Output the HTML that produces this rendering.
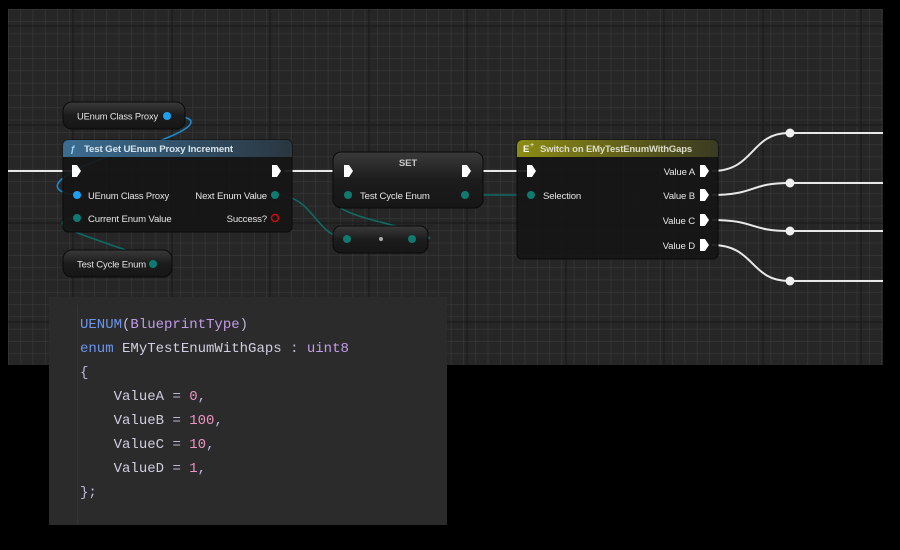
<!DOCTYPE html>
<html><head><meta charset="utf-8"><style>
html,body{margin:0;padding:0;background:#000;width:900px;height:550px;overflow:hidden}
svg{display:block}
.t{font-family:"Liberation Sans",sans-serif;font-size:9.6px;fill:#e6e6e6;letter-spacing:-0.15px}
.b{font-weight:bold}
.code{position:absolute;left:49px;top:297px;width:398px;height:228px;background:#2b2b2c;font-family:"Liberation Mono",monospace;font-size:14px;line-height:24px;color:#c9c0e8}
.code pre{margin:0;position:absolute;left:31px;top:16px;font:inherit}
.code .bar{position:absolute;left:28px;top:8px;width:1px;height:220px;background:#353535}
.k{color:#6c95eb}.p{color:#c39ce8}.n{color:#ed94c0}.f{color:#bdb8d8}.m{color:#d0cfe0}
</style></head><body>
<svg width="900" height="550" style="position:absolute;left:0;top:0">
<defs>
<pattern id="minor" x="8" y="9" width="12.3" height="12.3" patternUnits="userSpaceOnUse">
<rect width="12.3" height="12.3" fill="#262626"/>
<path d="M0 0H12.3M0 0V12.3" stroke="#393939" stroke-width="1.2"/>
</pattern>
<linearGradient id="hb" x1="0" x2="1"><stop offset="0" stop-color="#3b6d92"/><stop offset="1" stop-color="#2a3640"/></linearGradient>
<linearGradient id="hy" x1="0" x2="1"><stop offset="0" stop-color="#8c8c14"/><stop offset="1" stop-color="#3a3a22"/></linearGradient>
<linearGradient id="pill" x1="0" y1="0" x2="0" y2="1"><stop offset="0" stop-color="#3a3a3a"/><stop offset="0.5" stop-color="#1c1c1c"/><stop offset="1" stop-color="#161616"/></linearGradient>
</defs>
<rect x="8" y="9" width="875" height="356" fill="url(#minor)"/>
<g stroke="#181818" stroke-width="1">
<path d="M73 9V365M172 9V365M270 9V365M369 9V365M467 9V365M566 9V365M664 9V365M763 9V365M861 9V365"/>
<path d="M8 26H883M8 125H883M8 223H883M8 322H883"/>
</g>
<g fill="none" stroke-width="1.6">
<path d="M167 116C215 116 185 135 130 150S30 190 77 195" stroke="#1b8ad0"/>
<path d="M153 264C190 268 160 262 120 248S40 222 77 218" stroke="#0d6b63"/>
<path d="M275 195C315 195 315 238 347 238" stroke="#0d6b63"/>
<path d="M412 238C450 242 420 232 380 222S320 200 348 195" stroke="#0d6b63"/>
<path d="M465 195H531" stroke="#0d6b63"/>
</g>
<g fill="none" stroke="#e8e8e8" stroke-width="2">
<path d="M8 171H73M285 171H343M475 171H527"/>
<path d="M712 171C755 171 750 133 789 133H883"/>
<path d="M712 195C755 195 750 183 789 183H883"/>
<path d="M712 220C755 220 750 231 789 231H883"/>
<path d="M712 245C755 245 750 281 789 281H883"/>
</g>
<g fill="#f0f0f0"><circle cx="790" cy="133" r="4.5"/><circle cx="790" cy="183" r="4.5"/><circle cx="790" cy="231" r="4.5"/><circle cx="790" cy="281" r="4.5"/></g>

<rect x="63" y="102" width="122" height="27" rx="9" fill="url(#pill)" stroke="#0a0a0a"/>
<text class="t" x="77" y="119.5" textLength="81" lengthAdjust="spacingAndGlyphs">UEnum Class Proxy</text>
<circle cx="167" cy="116" r="4" fill="#1ea0f0"/>
<rect x="63" y="140" width="229" height="92" rx="5" fill="#151515" fill-opacity="0.93" stroke="#0a0a0a"/>
<path d="M68 140H287A5 5 0 0 1 292 145V157H63V145A5 5 0 0 1 68 140Z" fill="url(#hb)"/>
<text class="t b" x="70" y="152" style="font-style:italic;fill:#9fd2f5">ƒ</text>
<text class="t b" x="84" y="152" style="fill:#d8e4ec" textLength="149" lengthAdjust="spacingAndGlyphs">Test Get UEnum Proxy Increment</text>
<path d="M72 165h5l4 6-4 6h-5z" fill="#fff"/>
<path d="M272 165h5l4 6-4 6h-5z" fill="#fff"/>
<circle cx="77" cy="195" r="4" fill="#1ea0f0"/>
<text class="t" x="88" y="199" textLength="81" lengthAdjust="spacingAndGlyphs">UEnum Class Proxy</text>
<text class="t" x="267" y="199" text-anchor="end">Next Enum Value</text>
<circle cx="275" cy="195" r="4" fill="#0e7a70"/>
<circle cx="77" cy="218" r="4" fill="#0e7a70"/>
<text class="t" x="88" y="222">Current Enum Value</text>
<text class="t" x="267" y="222" text-anchor="end">Success?</text>
<circle cx="275" cy="218" r="3.5" fill="none" stroke="#c81010" stroke-width="1.4"/>
<rect x="63" y="250" width="109" height="27" rx="9" fill="url(#pill)" stroke="#0a0a0a"/>
<text class="t" x="77" y="267.5" textLength="69" lengthAdjust="spacingAndGlyphs">Test Cycle Enum</text>
<circle cx="153" cy="264" r="4" fill="#0e7a70"/>
<rect x="333" y="152" width="150" height="56" rx="8" fill="url(#pill)" stroke="#0a0a0a"/>
<text class="t b" x="408" y="166" text-anchor="middle" style="fill:#c8c8c8">SET</text>
<path d="M344 165h5l4 6-4 6h-5z" fill="#fff"/>
<path d="M462 165h5l4 6-4 6h-5z" fill="#fff"/>
<circle cx="348" cy="195" r="4" fill="#0e7a70"/>
<text class="t" x="360" y="199">Test Cycle Enum</text>
<circle cx="465" cy="195" r="4" fill="#0e7a70"/>
<rect x="333" y="226" width="95" height="27" rx="8" fill="url(#pill)" stroke="#0a0a0a"/>
<circle cx="347" cy="239" r="4" fill="#0e7a70"/>
<circle cx="381" cy="239" r="2" fill="#aaa"/>
<circle cx="412" cy="239" r="4" fill="#0e7a70"/>
<rect x="517" y="140" width="201" height="119" rx="5" fill="#151515" fill-opacity="0.93" stroke="#0a0a0a"/>
<path d="M522 140H713A5 5 0 0 1 718 145V157H517V145A5 5 0 0 1 522 140Z" fill="url(#hy)"/>
<text class="t b" x="523" y="152" style="fill:#fff">E</text><text class="t" x="530" y="147" style="font-size:7px;fill:#fff">+</text>
<text class="t b" x="540" y="152" style="fill:#dcdcc8" textLength="152" lengthAdjust="spacingAndGlyphs">Switch on EMyTestEnumWithGaps</text>
<path d="M527 165h5l4 6-4 6h-5z" fill="#fff"/>
<circle cx="531" cy="195" r="4" fill="#0e7a70"/>
<text class="t" x="543" y="199">Selection</text>
<text class="t" x="695" y="175" text-anchor="end">Value A</text>
<text class="t" x="695" y="199" text-anchor="end">Value B</text>
<text class="t" x="695" y="224" text-anchor="end">Value C</text>
<text class="t" x="695" y="249" text-anchor="end">Value D</text>
<path d="M700 165h5l4 6-4 6h-5zM700 189h5l4 6-4 6h-5zM700 214h5l4 6-4 6h-5zM700 239h5l4 6-4 6h-5z" fill="#fff"/>
</svg>
<div class="code"><div class="bar"></div><pre><span class="k">UENUM</span><span class="f">(</span><span class="p">BlueprintType</span><span class="f">)</span>
<span class="k">enum</span> <span class="m">EMyTestEnumWithGaps</span> <span class="f">:</span> <span class="p">uint8</span>
<span class="f">{</span>
    <span class="m">ValueA</span> <span class="f">=</span> <span class="n">0</span><span class="f">,</span>
    <span class="m">ValueB</span> <span class="f">=</span> <span class="n">100</span><span class="f">,</span>
    <span class="m">ValueC</span> <span class="f">=</span> <span class="n">10</span><span class="f">,</span>
    <span class="m">ValueD</span> <span class="f">=</span> <span class="n">1</span><span class="f">,</span>
<span class="f">};</span></pre></div>
</body></html>
